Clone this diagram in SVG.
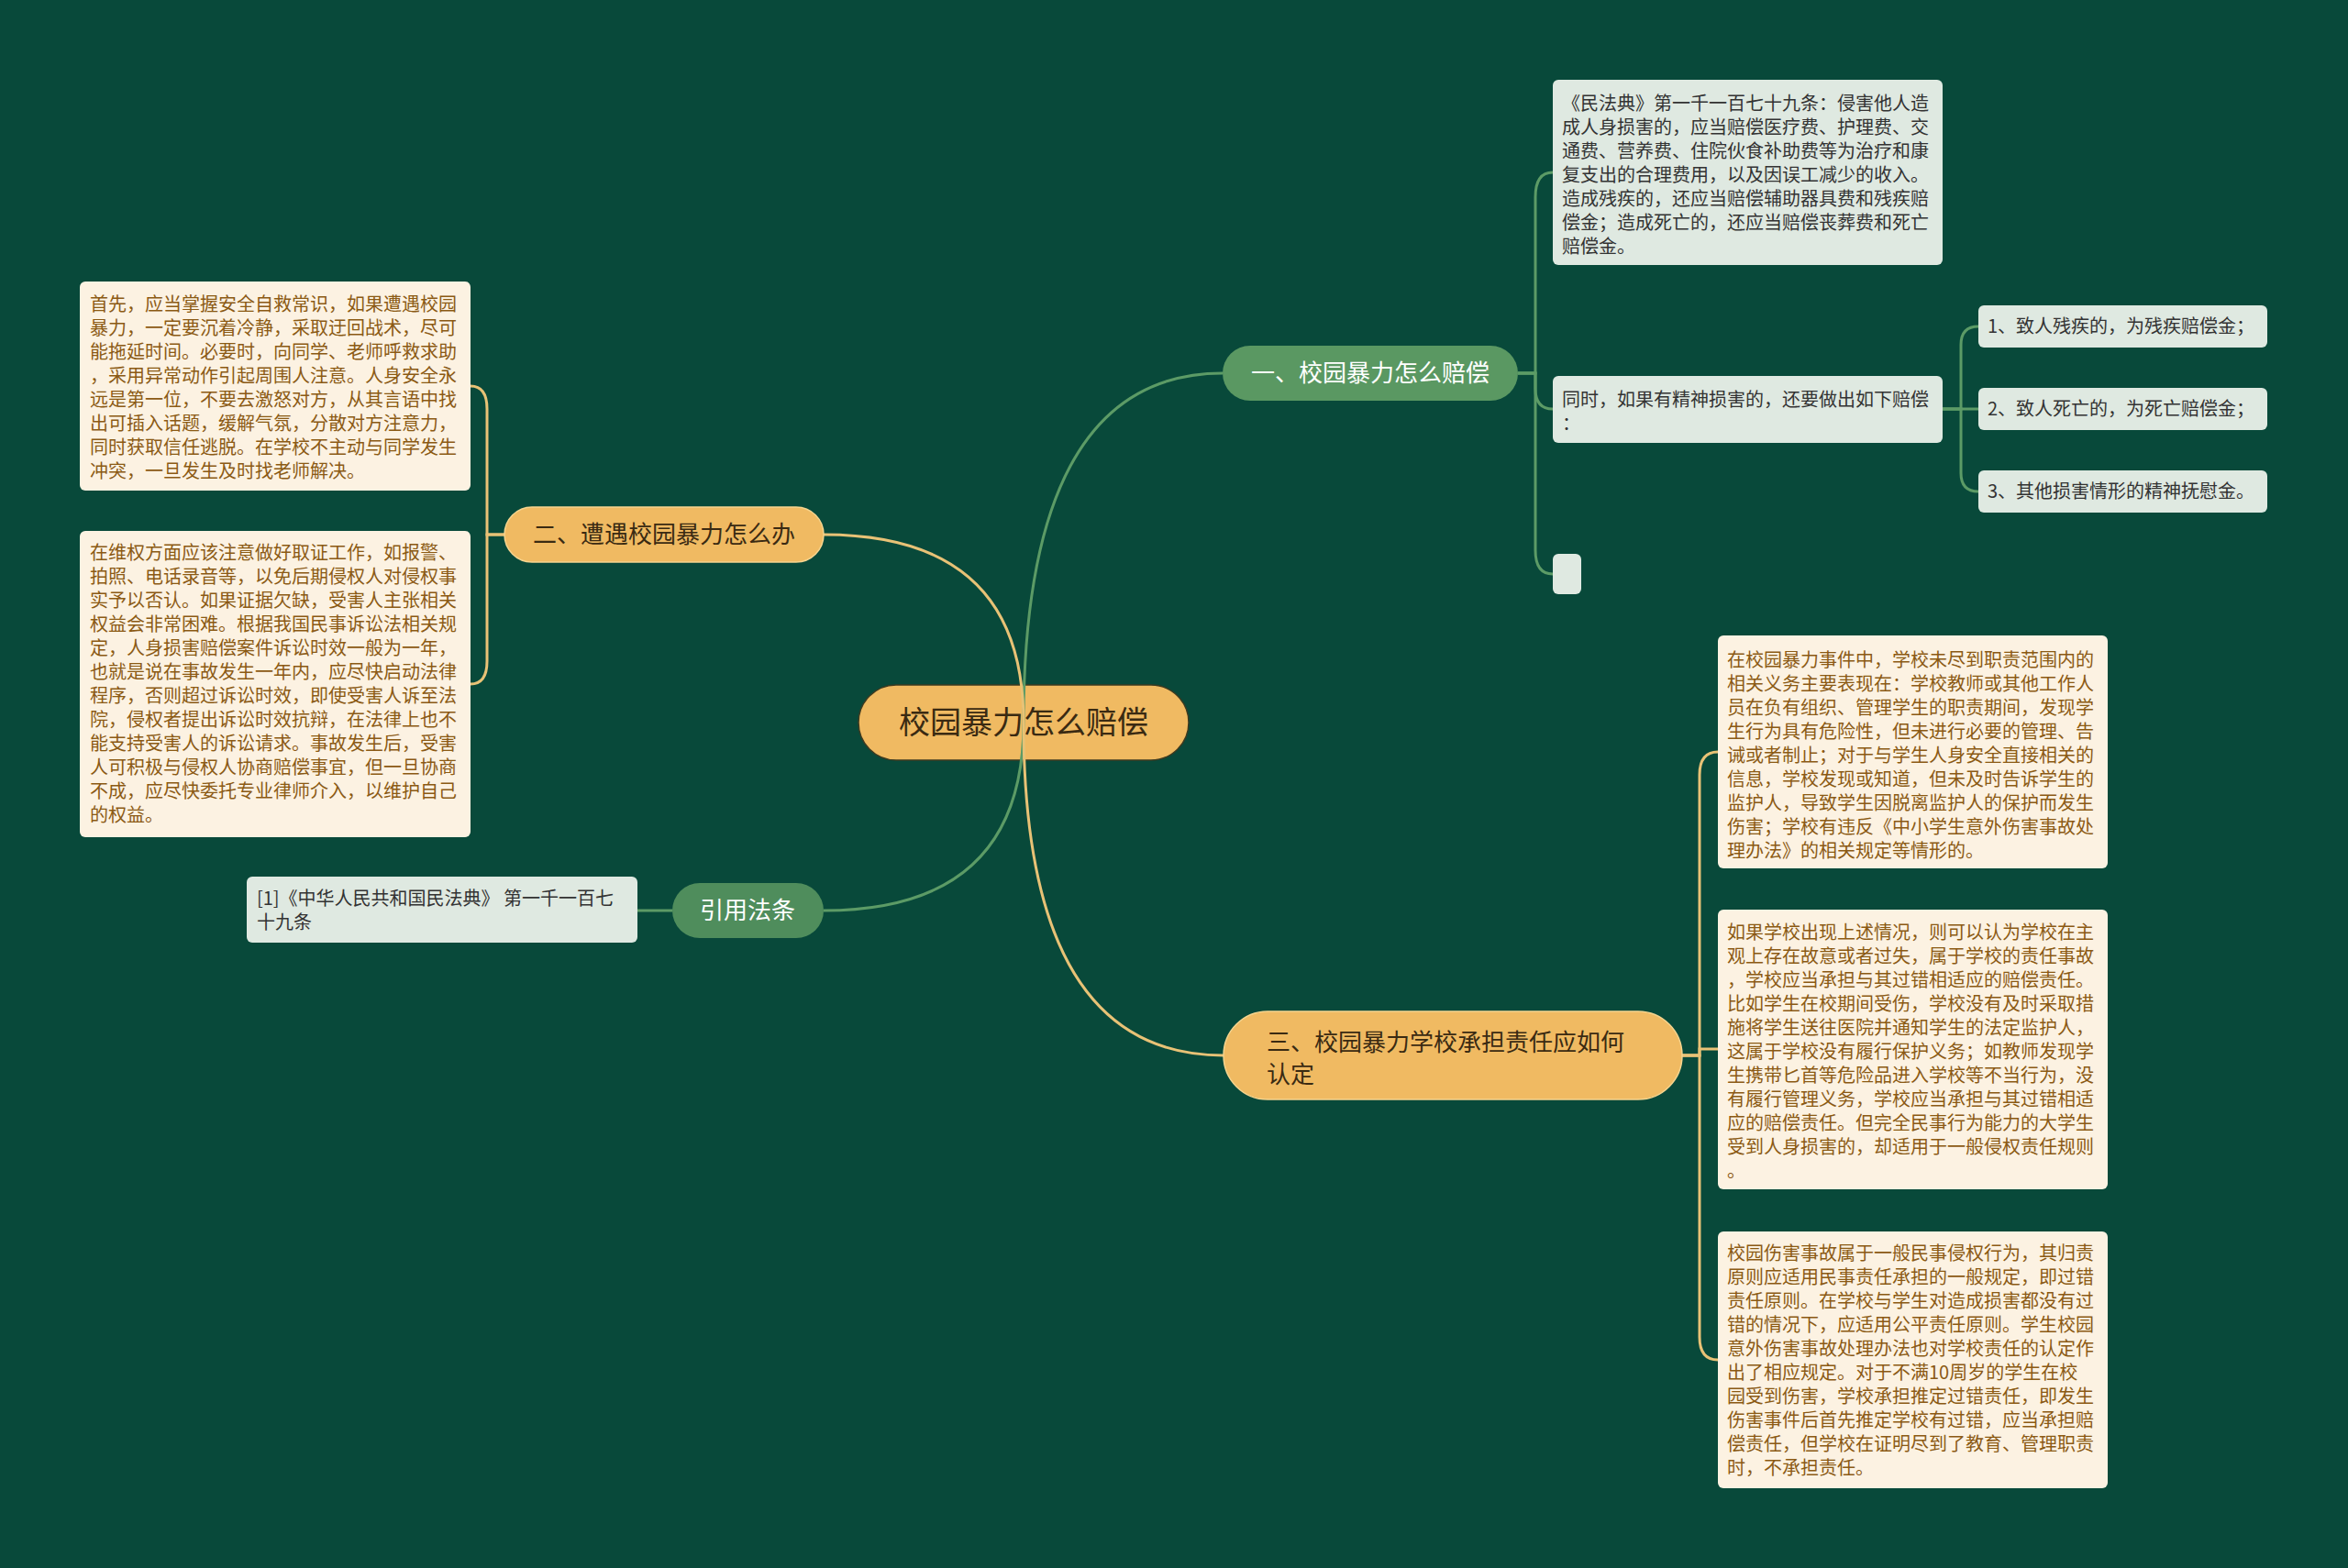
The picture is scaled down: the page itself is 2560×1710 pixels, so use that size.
<svg xmlns="http://www.w3.org/2000/svg" width="2560" height="1710" viewBox="0 0 2560 1710">
<defs>
<style>
.bg{fill:#08493a}
.t{font-family:"Noto Sans CJK SC","Noto Sans",sans-serif}
.gl{fill:none;stroke:#5c9b66;stroke-width:3}
.yl{fill:none;stroke:#e8c276;stroke-width:3}
.root{fill:#f0ba62;stroke:#3d3a20;stroke-width:1.5}
.yb{fill:#f0ba62;stroke:#f6d48e;stroke-width:1.5}
.gb{fill:#5a9862}
.gb2{fill:#4f8d5c}
.lg{fill:#dfe9e1}
.cr{fill:#fcf2e2}
.dk{fill:#3a2a12}
.wt{fill:#ffffff}
.tx{fill:#333333;font-size:20px}
.bt{fill:#8b5a14;font-size:20px}
</style>
</defs>
<rect class="bg" x="0" y="0" width="2560" height="1710"/>

<g id="root">
<rect class="root" x="936" y="747" width="360" height="82" rx="41"/>
<text class="t dk" x="1116" y="800" font-size="34" text-anchor="middle">校园暴力怎么赔偿</text>
</g>

<g id="connectors">
<path class="gl" d="M1116,788 Q1116,407 1333,407"/>
<path class="yl" d="M1116,788 Q1116,583 898,583"/>
<path class="gl" d="M1116,788 Q1116,993 898,993"/>
<path class="yl" d="M1116,788 Q1116,1151 1334,1151"/>
<path class="gl" d="M1655,407 H1674 V215 Q1674,188 1693,188"/>
<path class="gl" d="M1655,407 H1674 V424 Q1674,446 1693,446"/>
<path class="gl" d="M1655,407 H1674 V600 Q1674,626 1693,626"/>
<path class="gl" d="M2118,446 H2138 V376 Q2138,356 2157,356"/>
<path class="gl" d="M2118,446 H2157"/>
<path class="gl" d="M2118,446 H2138 V516 Q2138,536 2157,536"/>
<path class="yl" d="M550,583 H531 V446 Q531,421 513,421"/>
<path class="yl" d="M550,583 H531 V721 Q531,746 513,746"/>
<path class="gl" d="M733,993 H695"/>
<path class="yl" d="M1834,1151 H1853 V845 Q1853,820 1873,820"/>
<path class="yl" d="M1834,1151 H1853 V1144 H1873"/>
<path class="yl" d="M1834,1151 H1853 V1458 Q1853,1483 1873,1483"/>
</g>

<g id="branch1">
<rect class="gb" x="1333" y="377" width="322" height="60" rx="30"/>
<text class="t wt" x="1494" y="416" font-size="26" text-anchor="middle">一、校园暴力怎么赔偿</text>
</g>

<g id="b1-law">
<rect class="lg" x="1693" y="87" width="425" height="202" rx="6"/>
<text class="t tx"><tspan x="1703" y="120">《民法典》第一千一百七十九条：侵害他人造</tspan><tspan x="1703" y="146">成人身损害的，应当赔偿医疗费、护理费、交</tspan><tspan x="1703" y="172">通费、营养费、住院伙食补助费等为治疗和康</tspan><tspan x="1703" y="198">复支出的合理费用，以及因误工减少的收入。</tspan><tspan x="1703" y="224">造成残疾的，还应当赔偿辅助器具费和残疾赔</tspan><tspan x="1703" y="250">偿金；造成死亡的，还应当赔偿丧葬费和死亡</tspan><tspan x="1703" y="276">赔偿金。</tspan></text>
</g>

<g id="b1-mental">
<rect class="lg" x="1693" y="410" width="425" height="73" rx="6"/>
<text class="t tx"><tspan x="1703" y="443">同时，如果有精神损害的，还要做出如下赔偿</tspan><tspan x="1703" y="469">：</tspan></text>
</g>

<g id="b1-m1">
<rect class="lg" x="2157" y="333" width="315" height="46" rx="6"/>
<text class="t tx" x="2167" y="363">1、致人残疾的，为残疾赔偿金；</text>
</g>
<g id="b1-m2">
<rect class="lg" x="2157" y="423" width="315" height="46" rx="6"/>
<text class="t tx" x="2167" y="453">2、致人死亡的，为死亡赔偿金；</text>
</g>
<g id="b1-m3">
<rect class="lg" x="2157" y="513" width="315" height="46" rx="6"/>
<text class="t tx" x="2167" y="543">3、其他损害情形的精神抚慰金。</text>
</g>

<g id="b1-empty">
<rect class="lg" x="1693" y="604" width="31" height="44" rx="6"/>
</g>

<g id="branch2">
<rect class="yb" x="550" y="553" width="348" height="60" rx="30"/>
<text class="t dk" x="724" y="592" font-size="26" text-anchor="middle">二、遭遇校园暴力怎么办</text>
</g>

<g id="b2-c1">
<rect class="cr" x="87" y="307" width="426" height="228" rx="6"/>
<text class="t bt"><tspan x="98" y="339">首先，应当掌握安全自救常识，如果遭遇校园</tspan><tspan x="98" y="365">暴力，一定要沉着冷静，采取迂回战术，尽可</tspan><tspan x="98" y="391">能拖延时间。必要时，向同学、老师呼救求助</tspan><tspan x="98" y="417">，采用异常动作引起周围人注意。人身安全永</tspan><tspan x="98" y="443">远是第一位，不要去激怒对方，从其言语中找</tspan><tspan x="98" y="469">出可插入话题，缓解气氛，分散对方注意力，</tspan><tspan x="98" y="495">同时获取信任逃脱。在学校不主动与同学发生</tspan><tspan x="98" y="521">冲突，一旦发生及时找老师解决。</tspan></text>
</g>

<g id="b2-c2">
<rect class="cr" x="87" y="579" width="426" height="334" rx="6"/>
<text class="t bt"><tspan x="98" y="610">在维权方面应该注意做好取证工作，如报警、</tspan><tspan x="98" y="636">拍照、电话录音等，以免后期侵权人对侵权事</tspan><tspan x="98" y="662">实予以否认。如果证据欠缺，受害人主张相关</tspan><tspan x="98" y="688">权益会非常困难。根据我国民事诉讼法相关规</tspan><tspan x="98" y="714">定，人身损害赔偿案件诉讼时效一般为一年，</tspan><tspan x="98" y="740">也就是说在事故发生一年内，应尽快启动法律</tspan><tspan x="98" y="766">程序，否则超过诉讼时效，即使受害人诉至法</tspan><tspan x="98" y="792">院，侵权者提出诉讼时效抗辩，在法律上也不</tspan><tspan x="98" y="818">能支持受害人的诉讼请求。事故发生后，受害</tspan><tspan x="98" y="844">人可积极与侵权人协商赔偿事宜，但一旦协商</tspan><tspan x="98" y="870">不成，应尽快委托专业律师介入，以维护自己</tspan><tspan x="98" y="896">的权益。</tspan></text>
</g>

<g id="citation">
<rect class="gb2" x="733" y="963" width="165" height="60" rx="30"/>
<text class="t wt" x="815" y="1002" font-size="26" text-anchor="middle">引用法条</text>
</g>

<g id="cite-c1">
<rect class="lg" x="269" y="956" width="426" height="72" rx="6"/>
<text class="t tx"><tspan x="280" y="987">[1]《中华人民共和国民法典》 第一千一百七</tspan><tspan x="280" y="1013">十九条</tspan></text>
</g>

<g id="branch3">
<rect class="yb" x="1334" y="1103" width="500" height="96" rx="48"/>
<text class="t dk" font-size="26"><tspan x="1381" y="1146">三、校园暴力学校承担责任应如何</tspan><tspan x="1381" y="1181">认定</tspan></text>
</g>

<g id="b3-c1">
<rect class="cr" x="1873" y="693" width="425" height="254" rx="6"/>
<text class="t bt"><tspan x="1883" y="727">在校园暴力事件中，学校未尽到职责范围内的</tspan><tspan x="1883" y="753">相关义务主要表现在：学校教师或其他工作人</tspan><tspan x="1883" y="779">员在负有组织、管理学生的职责期间，发现学</tspan><tspan x="1883" y="805">生行为具有危险性，但未进行必要的管理、告</tspan><tspan x="1883" y="831">诫或者制止；对于与学生人身安全直接相关的</tspan><tspan x="1883" y="857">信息，学校发现或知道，但未及时告诉学生的</tspan><tspan x="1883" y="883">监护人，导致学生因脱离监护人的保护而发生</tspan><tspan x="1883" y="909">伤害；学校有违反《中小学生意外伤害事故处</tspan><tspan x="1883" y="935">理办法》的相关规定等情形的。</tspan></text>
</g>

<g id="b3-c2">
<rect class="cr" x="1873" y="992" width="425" height="305" rx="6"/>
<text class="t bt"><tspan x="1883" y="1024">如果学校出现上述情况，则可以认为学校在主</tspan><tspan x="1883" y="1050">观上存在故意或者过失，属于学校的责任事故</tspan><tspan x="1883" y="1076">，学校应当承担与其过错相适应的赔偿责任。</tspan><tspan x="1883" y="1102">比如学生在校期间受伤，学校没有及时采取措</tspan><tspan x="1883" y="1128">施将学生送往医院并通知学生的法定监护人，</tspan><tspan x="1883" y="1154">这属于学校没有履行保护义务；如教师发现学</tspan><tspan x="1883" y="1180">生携带匕首等危险品进入学校等不当行为，没</tspan><tspan x="1883" y="1206">有履行管理义务，学校应当承担与其过错相适</tspan><tspan x="1883" y="1232">应的赔偿责任。但完全民事行为能力的大学生</tspan><tspan x="1883" y="1258">受到人身损害的，却适用于一般侵权责任规则</tspan><tspan x="1883" y="1284">。</tspan></text>
</g>

<g id="b3-c3">
<rect class="cr" x="1873" y="1343" width="425" height="280" rx="6"/>
<text class="t bt"><tspan x="1883" y="1374">校园伤害事故属于一般民事侵权行为，其归责</tspan><tspan x="1883" y="1400">原则应适用民事责任承担的一般规定，即过错</tspan><tspan x="1883" y="1426">责任原则。在学校与学生对造成损害都没有过</tspan><tspan x="1883" y="1452">错的情况下，应适用公平责任原则。学生校园</tspan><tspan x="1883" y="1478">意外伤害事故处理办法也对学校责任的认定作</tspan><tspan x="1883" y="1504">出了相应规定。对于不满10周岁的学生在校</tspan><tspan x="1883" y="1530">园受到伤害，学校承担推定过错责任，即发生</tspan><tspan x="1883" y="1556">伤害事件后首先推定学校有过错，应当承担赔</tspan><tspan x="1883" y="1582">偿责任，但学校在证明尽到了教育、管理职责</tspan><tspan x="1883" y="1608">时，不承担责任。</tspan></text>
</g>
</svg>
